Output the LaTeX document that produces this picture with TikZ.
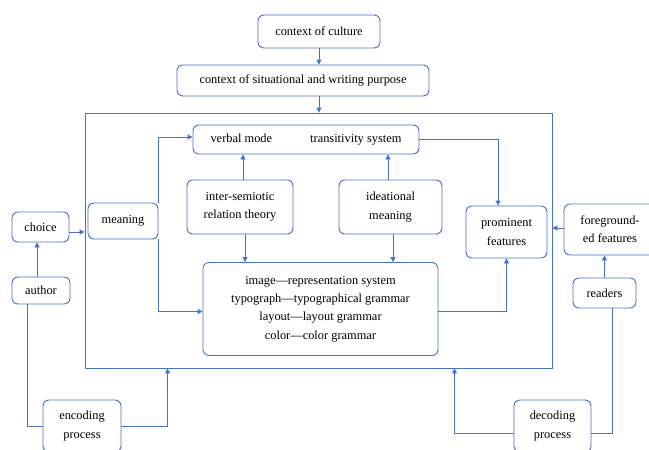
\documentclass[tikz,border=0pt]{standalone}
\usepackage{fontspec}
\setmainfont{Liberation Serif}
\usetikzlibrary{arrows.meta}
\definecolor{myblue}{HTML}{4472C4}
\begin{document}
\begin{tikzpicture}[x=1pt,y=-1pt,
  font=\fontsize{12.4}{18.3}\selectfont,
  box/.style={draw=myblue,line width=0.9pt,rounded corners=6pt,align=center,inner sep=0pt},
  frame/.style={draw=myblue,line width=0.9pt,inner sep=0pt},
  arr/.style={draw=myblue,line width=0.9pt,-{Triangle[length=5pt,width=5pt]}},
  ln/.style={draw=myblue,line width=0.9pt}]
\useasboundingbox (0,0) rectangle (649,450);
\node[frame,minimum width=467pt,minimum height=255pt] (big) at (318.5,240.5) {};
\node[box,minimum width=122pt,minimum height=33pt] (culture) at (319,31.5) {context of culture};
\node[box,minimum width=252pt,minimum height=31pt] (situ) at (303,80.5) {context of situational and writing purpose};
\node[box,minimum width=226pt,minimum height=29pt] (verbal) at (306,139.5) {verbal mode\hspace{38pt}transitivity system};
\node[box,minimum width=70pt,minimum height=36pt] (meaning) at (123,221) {meaning};
\node[box,minimum width=106pt,minimum height=54pt] (inter) at (240,207) {inter-semiotic\\relation theory};
\node[box,minimum width=103pt,minimum height=54pt] (ideational) at (390.5,207) {ideational\\meaning};
\node[box,minimum width=81pt,minimum height=52pt] (prominent) at (506.5,232) {prominent\\features};
\node[box,minimum width=235pt,minimum height=93pt] (bottom) at (320.5,309) {image---representation system\\typograph---typographical grammar\\layout---layout grammar\\color---color grammar};
\node[box,minimum width=57pt,minimum height=30pt] (choice) at (40.5,227) {choice};
\node[box,minimum width=58pt,minimum height=27pt] (author) at (41,290.5) {author};
\node[box,minimum width=78pt,minimum height=52pt] (encoding) at (82,426) {encoding\\process};
\node[box,minimum width=92pt,minimum height=51pt] (foreground) at (610,229.5) {foreground-\\ed features};
\node[box,minimum width=63pt,minimum height=30pt] (readers) at (604.5,293) {readers};
\node[box,minimum width=77pt,minimum height=52pt] (decoding) at (552.5,426) {decoding\\process};
% top chain
\draw[arr] (culture.south) -- (culture.south |- situ.north);
\draw[arr] (culture.south |- situ.south) -- (culture.south |- big.north);
% inside
\draw[arr] (meaning.north east) |- ([yshift=2.5]verbal.west);
\draw[arr] (meaning.south east) |- ([yshift=-2.5]bottom.west);
\draw[arr] ([xshift=3]inter.north) -- ([xshift=3]inter.north |- verbal.south);
\draw[arr] ([xshift=5]inter.south) -- ([xshift=5]inter.south |- bottom.north);
\draw[arr] ([xshift=-2.5]ideational.north) -- ([xshift=-2.5]ideational.north |- verbal.south);
\draw[arr] ([xshift=2.5]ideational.south) -- ([xshift=2.5]ideational.south |- bottom.north);
\draw[arr] (verbal.east) -| ([xshift=-8.5]prominent.north);
\draw[arr] ([yshift=-2]bottom.east) -| (prominent.south);
% left side
\draw[arr] ([yshift=-5]choice.east) -- ([yshift=-5]choice.east -| big.west);
\draw[arr] ([xshift=-4]author.north) -- ([xshift=-4]author.north |- choice.south);
\draw[ln] ([xshift=-14]author.south) |- (encoding.west);
\draw[arr] (encoding.east) -| ([xshift=83]big.south west);
% right side
\draw[arr] ([yshift=1.5]foreground.west) -- ([yshift=1.5]foreground.west -| big.east);
\draw[arr] (readers.north) -- (readers.north |- foreground.south);
\draw[ln] ([xshift=7.5]readers.south) |- ([yshift=-7]decoding.east);
\draw[arr] ([yshift=-7]decoding.west) -| ([xshift=-98]big.south east);
\end{tikzpicture}
\end{document}
